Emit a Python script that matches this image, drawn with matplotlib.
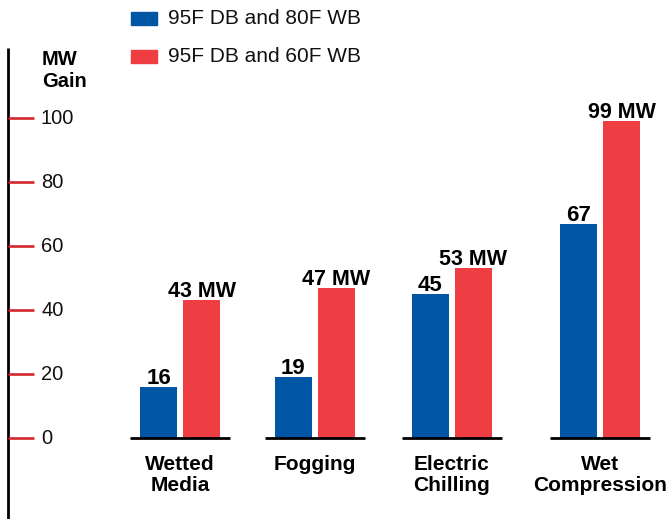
import matplotlib.pyplot as plt
from matplotlib.patches import Rectangle

plt.rcParams['font.family'] = ['Liberation Sans', 'DejaVu Sans']

# ------------------- Данные ---------------------
categories = ['Wetted\nMedia', 'Fogging', 'Electric\nChilling', 'Wet\nCompression']
series_names = ['95F DB and 80F WB', '95F DB and 60F WB']
hot_humid = [16, 19, 45, 67]   # 95F DB / 80F WB
hot_dry = [43, 47, 53, 99]     # 95F DB / 60F WB
hot_dry_labels = ['43 MW', '47 MW', '53 MW', '99 MW']
yticks = [0, 20, 40, 60, 80, 100]

BLUE = '#0055A5'
RED = '#EE3E44'
TICK_RED = '#D4262C'

W, H = 667, 519
group_x = [180, 314.5, 451.5, 600]   # центры групп, px
bar_w = 37
shift = 21.5

fig = plt.figure(figsize=(W / 100, H / 100), dpi=100)
ax = fig.add_axes([0, 0, 1, 1])
ax.set_xlim(0, W)
# 0 -> 438 px, 100 -> 118 px (3.2 px на единицу)
ax.set_ylim(-(H - 438) / 3.2, 438 / 3.2)
ax.axis('off')


def fx(px):
    return px / W


def fy(py):
    return 1 - py / H


# ось слева
ax.plot([8, 8], [-(H - 438) / 3.2, (438 - 48) / 3.2], color='black', lw=2.0,
        solid_capstyle='butt')
for t in yticks:
    ax.plot([8, 34], [t, t], color=TICK_RED, lw=1.9, solid_capstyle='butt')
    ax.text(41, t, str(t), fontsize=14.5, va='center', ha='left', color='#111111')

fig.text(fx(42), fy(50), 'MW\nGain', fontsize=14.5, fontweight='bold',
         va='top', ha='left', linespacing=1.2)

# столбцы
for i, c in enumerate(group_x):
    ax.plot([c - 50, c + 50], [0, 0], color='black', lw=2.0, zorder=3,
            solid_capstyle='butt')
    ax.bar(c - shift, hot_humid[i], width=bar_w, color=BLUE, zorder=2)
    ax.bar(c + shift, hot_dry[i], width=bar_w, color=RED, zorder=2)
    ax.annotate(str(hot_humid[i]), (c - shift, hot_humid[i]), xytext=(0, 3),
                textcoords='offset pixels', ha='center', va='baseline',
                fontsize=16, fontweight='bold')
    ax.annotate(hot_dry_labels[i], (c + shift, hot_dry[i]), xytext=(0, 3),
                textcoords='offset pixels', ha='center', va='baseline',
                fontsize=15.5, fontweight='bold')
    fig.text(fx(c), fy(455), categories[i], fontsize=15, fontweight='bold',
             ha='center', va='top', linespacing=1.15)

# легенда
for (y0, col, name) in [(12, BLUE, series_names[0]), (50, RED, series_names[1])]:
    fig.patches.append(Rectangle((fx(131), fy(y0 + 13)), 26 / W, 13 / H,
                                 transform=fig.transFigure, color=col))
    fig.text(fx(168), fy(y0 + 6.5), name, fontsize=15, va='center', ha='left',
             color='#111111')

fig.savefig('out.png', dpi=100)
